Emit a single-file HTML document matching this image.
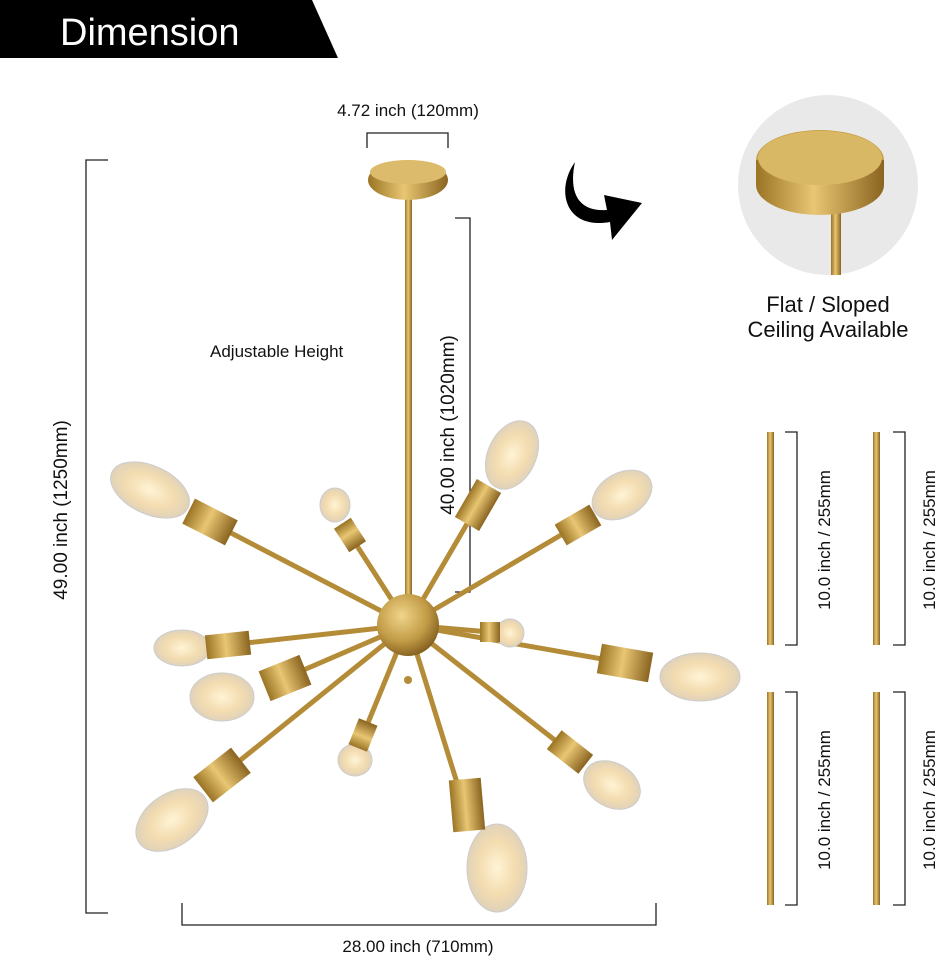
<!DOCTYPE html>
<html><head><meta charset="utf-8"><style>
html,body{margin:0;padding:0;background:#fff;}
svg{display:block;font-family:"Liberation Sans",sans-serif;}
</style></head><body>
<svg width="937" height="961" viewBox="0 0 937 961" xmlns="http://www.w3.org/2000/svg">
<defs>
<linearGradient id="g" x1="0" x2="1" y1="0" y2="0">
<stop offset="0" stop-color="#9a7424"/><stop offset="0.45" stop-color="#e8c673"/><stop offset="1" stop-color="#8a6420"/>
</linearGradient>
<radialGradient id="sg" cx="0.4" cy="0.35" r="0.7">
<stop offset="0" stop-color="#f0d58a"/><stop offset="0.6" stop-color="#c19a45"/><stop offset="1" stop-color="#7d5a1c"/>
</radialGradient>
<radialGradient id="bg" cx="0.5" cy="0.5" r="0.6">
<stop offset="0" stop-color="#fff4d6"/><stop offset="0.5" stop-color="#f3dcb0"/><stop offset="1" stop-color="#d8cdbd"/>
</radialGradient>
</defs>
<!-- header -->
<polygon points="0,0 312,0 338,58 0,58" fill="#000"/>
<text x="60" y="45" font-size="38" fill="#fff">Dimension</text>

<!-- dims -->
<g stroke="#222" stroke-width="1.3" fill="none">
<polyline points="108,160 86,160 86,913 108,913"/>
<polyline points="182,903 182,925 656,925 656,903"/>
<polyline points="367,148 367,133 448,133 448,148"/>
<polyline points="455,218 470,218 470,592 455,592"/>
<polyline points="785,432 797,432 797,645 785,645"/>
<polyline points="893,432 905,432 905,645 893,645"/>
<polyline points="785,692 797,692 797,905 785,905"/>
<polyline points="893,692 905,692 905,905 893,905"/>
</g>
<g font-size="17" fill="#111">
<text x="408" y="116" text-anchor="middle">4.72 inch (120mm)</text>
<text x="418" y="952" text-anchor="middle">28.00 inch (710mm)</text>
<text x="210" y="357">Adjustable Height</text>
<text transform="translate(67,510) rotate(-90)" text-anchor="middle" font-size="19">49.00 inch (1250mm)</text>
<text transform="translate(454,425) rotate(-90)" text-anchor="middle" font-size="19">40.00 inch (1020mm)</text>
<text transform="translate(830,540) rotate(-90)" text-anchor="middle">10.0 inch / 255mm</text>
<text transform="translate(935,540) rotate(-90)" text-anchor="middle">10.0 inch / 255mm</text>
<text transform="translate(830,800) rotate(-90)" text-anchor="middle">10.0 inch / 255mm</text>
<text transform="translate(935,800) rotate(-90)" text-anchor="middle">10.0 inch / 255mm</text>
</g>

<!-- rods -->
<rect x="767" y="432" width="7" height="213" fill="url(#g)"/>
<rect x="873" y="432" width="7" height="213" fill="url(#g)"/>
<rect x="767" y="692" width="7" height="213" fill="url(#g)"/>
<rect x="873" y="692" width="7" height="213" fill="url(#g)"/>

<!-- right circle -->
<circle cx="828" cy="185" r="90" fill="#e9e9e9"/>
<rect x="831" y="195" width="10" height="80" fill="url(#g)"/>
<ellipse cx="820" cy="160" rx="64" ry="30" fill="#c9a24d"/>
<path d="M756,160 v25 a64,30 0 0 0 128,0 v-25 z" fill="url(#g)"/>
<ellipse cx="820" cy="158" rx="62" ry="27" fill="#d9b865"/>
<text x="828" y="312" font-size="22" text-anchor="middle" fill="#111">Flat / Sloped</text>
<text x="828" y="337" font-size="22" text-anchor="middle" fill="#111">Ceiling Available</text>
<!-- arrow -->
<path d="M575,162 C555,190 565,230 610,222 L612,240 L642,203 L604,195 L607,210 C580,212 568,195 575,162 z" fill="#000"/>

<!-- chandelier -->
<rect x="405" y="195" width="7" height="410" fill="url(#g)"/>
<ellipse cx="408" cy="180" rx="40" ry="20" fill="url(#g)"/>
<ellipse cx="408" cy="172" rx="38" ry="12" fill="#dcbc6c"/>
<g stroke="#b48c38" stroke-width="5" stroke-linecap="round">
<line x1="408" y1="625" x2="210" y2="522"/>
<line x1="408" y1="625" x2="350" y2="535"/>
<line x1="408" y1="625" x2="478" y2="505"/>
<line x1="408" y1="625" x2="578" y2="525"/>
<line x1="408" y1="625" x2="228" y2="645"/>
<line x1="408" y1="625" x2="285" y2="678"/>
<line x1="408" y1="625" x2="625" y2="663"/>
<line x1="408" y1="625" x2="490" y2="632"/>
<line x1="408" y1="625" x2="222" y2="775"/>
<line x1="408" y1="625" x2="363" y2="735"/>
<line x1="408" y1="625" x2="467" y2="815"/>
<line x1="408" y1="625" x2="570" y2="752"/>
</g>
<g>
<!-- bulbs -->
<ellipse cx="150" cy="490" rx="42" ry="24" transform="rotate(25 150 490)" fill="url(#bg)" stroke="#ccc"/>
<ellipse cx="335" cy="505" rx="15" ry="17" fill="url(#bg)" stroke="#ccc"/>
<ellipse cx="512" cy="455" rx="24" ry="36" transform="rotate(25 512 455)" fill="url(#bg)" stroke="#ccc"/>
<ellipse cx="622" cy="495" rx="32" ry="22" transform="rotate(-30 622 495)" fill="url(#bg)" stroke="#ccc"/>
<ellipse cx="182" cy="648" rx="28" ry="18" fill="url(#bg)" stroke="#ccc"/>
<ellipse cx="222" cy="697" rx="32" ry="24" fill="url(#bg)" stroke="#ccc"/>
<ellipse cx="700" cy="677" rx="40" ry="24" fill="url(#bg)" stroke="#ccc"/>
<ellipse cx="510" cy="633" rx="14" ry="14" fill="url(#bg)" stroke="#ccc"/>
<ellipse cx="172" cy="820" rx="40" ry="26" transform="rotate(-35 172 820)" fill="url(#bg)" stroke="#ccc"/>
<ellipse cx="355" cy="760" rx="17" ry="16" fill="url(#bg)" stroke="#ccc"/>
<ellipse cx="497" cy="868" rx="30" ry="44" fill="url(#bg)" stroke="#ccc"/>
<ellipse cx="612" cy="785" rx="30" ry="22" transform="rotate(30 612 785)" fill="url(#bg)" stroke="#ccc"/>
</g>
<g fill="url(#g)">
<rect x="-24" y="-14" width="48" height="28" transform="translate(210,522) rotate(27)"/>
<rect x="-14" y="-10" width="28" height="20" transform="translate(350,535) rotate(57)"/>
<rect x="-14" y="-22" width="28" height="44" transform="translate(478,505) rotate(30)"/>
<rect x="-20" y="-12" width="40" height="24" transform="translate(578,525) rotate(-30)"/>
<rect x="-22" y="-12" width="44" height="24" transform="translate(228,645) rotate(-6)"/>
<rect x="-22" y="-16" width="44" height="32" transform="translate(285,678) rotate(-22)"/>
<rect x="-26" y="-15" width="52" height="30" transform="translate(625,663) rotate(10)"/>
<rect x="-10" y="-10" width="20" height="20" transform="translate(490,632)"/>
<rect x="-24" y="-16" width="48" height="32" transform="translate(222,775) rotate(-38)"/>
<rect x="-14" y="-10" width="28" height="20" transform="translate(363,735) rotate(-68)"/>
<rect x="-16" y="-26" width="32" height="52" transform="translate(467,805) rotate(-5)"/>
<rect x="-20" y="-12" width="40" height="24" transform="translate(570,752) rotate(38)"/>
</g>
<circle cx="408" cy="625" r="31" fill="url(#sg)"/>
<circle cx="408" cy="680" r="4" fill="#b48c38"/>
</svg>
</body></html>
